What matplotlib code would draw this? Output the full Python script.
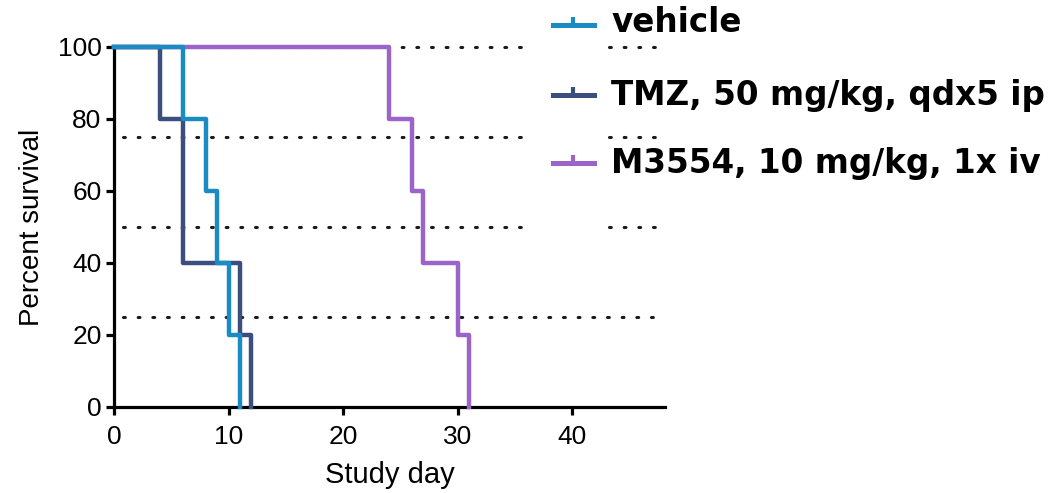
import numpy as np
import matplotlib.pyplot as plt
from matplotlib.lines import Line2D

# survival data (study day, percent surviving)
vehicle_days = [0, 6, 8, 9, 10, 11]
vehicle_surv = [100, 80, 60, 40, 20, 0]
tmz_days = [0, 4, 6, 11, 12]
tmz_surv = [100, 80, 40, 20, 0]
m3554_days = [0, 24, 26, 27, 30, 31]
m3554_surv = [100, 80, 60, 40, 20, 0]

labels = ['vehicle', 'TMZ, 50 mg/kg, qdx5 ip', 'M3554, 10 mg/kg, 1x iv']
colors = ['#1b8bc4', '#3c4e7e', '#9a64c8']
ref_levels = [100, 75, 50, 25]

W, H = 1048, 493
fig = plt.figure(figsize=(W / 100, H / 100), dpi=100)
ax = fig.add_axes([114 / W, 1 - 407 / H, 551 / W, 360 / H])

# dotted reference lines (broken where the legend sits)
dot = dict(color='#1a1a1a', lw=2.2, ls=(0, (0.6, 4.2)), zorder=1,
           clip_on=False, dash_capstyle='round')
for lvl in ref_levels:
    if lvl == 25:
        ax.plot([0.8, 47.3], [lvl, lvl], **dot)
    else:
        ax.plot([0.8, 35.6], [lvl, lvl], **dot)
        ax.plot([43.2, 47.3], [lvl, lvl], **dot)

ax.step(m3554_days, m3554_surv, where='post', color=colors[2], lw=3.2, zorder=3, clip_on=False)
ax.step(tmz_days, tmz_surv, where='post', color=colors[1], lw=3.2, zorder=4, clip_on=False)
ax.step(vehicle_days, vehicle_surv, where='post', color=colors[0], lw=3.2, zorder=5, clip_on=False)

ax.set_xlim(0, 48.1)
ax.set_ylim(0, 100)
ax.set_xticks([0, 10, 20, 30, 40])
ax.set_yticks([0, 20, 40, 60, 80, 100])
for s in ['top', 'right']:
    ax.spines[s].set_visible(False)
for s in ['left', 'bottom']:
    ax.spines[s].set_linewidth(2.3)
ax.tick_params(length=6, width=2.3, labelsize=19)
ax.tick_params(axis='x', pad=7)
ax.tick_params(axis='y', pad=3)
for t in ax.get_xticklabels() + ax.get_yticklabels():
    t.set_fontfamily('Liberation Sans')

ax.set_ylabel('Percent survival', fontsize=20, family='Liberation Sans')
ax.yaxis.set_label_coords(-0.125, 0.5)
ax.set_xlabel('Study day', fontsize=21, family='Liberation Sans')
ax.xaxis.set_label_coords(0.5, -0.15)

# manual legend in figure pixels
ys = [25, 95, 163]
text_ys = [22, 96, 164]
for lab, col, y, ty in zip(labels, colors, ys, text_ys):
    yf = 1 - y / H
    fig.add_artist(Line2D([553 / W, 573 / W, 594 / W], [yf, yf, yf],
                          transform=fig.transFigure, color=col, lw=3.6,
                          marker=2, markevery=[1], markersize=6, mew=3))
    fig.text(611 / W, 1 - ty / H, lab, fontsize=23.5, fontweight='bold',
             family='DejaVu Sans', va='center', ha='left')

fig.savefig('out.png', dpi=100)
